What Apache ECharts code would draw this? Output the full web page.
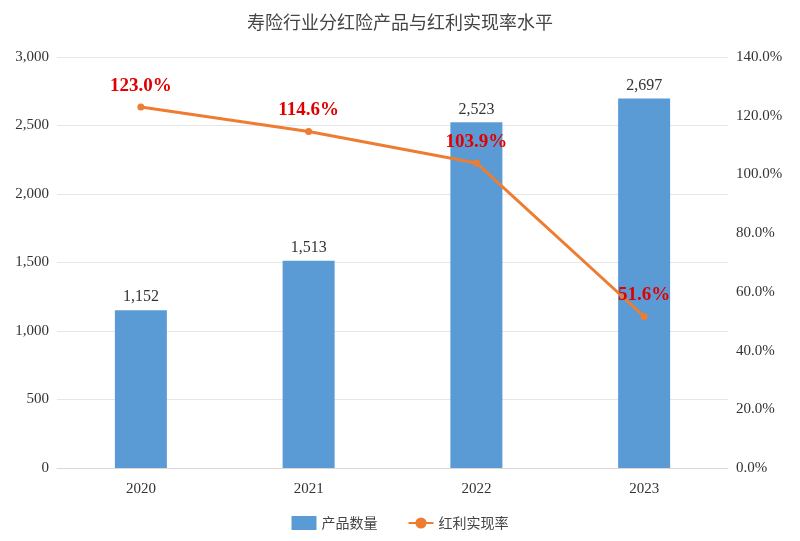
<!DOCTYPE html>
<html><head><meta charset="utf-8">
<script src="https://cdn.jsdelivr.net/npm/echarts@6/dist/echarts.min.js"></script>
<style>html,body{margin:0;padding:0;background:#fff}#c{width:800px;height:541px}</style>
</head><body><div id="c"></div>
<script>
var years = ['2020', '2021', '2022', '2023'];
var productCount = [1152, 1513, 2523, 2697];
var dividendRate = [123.0, 114.6, 103.9, 51.6];

var chart = echarts.init(document.getElementById('c'));
var serif = '"Liberation Serif", "Noto Sans CJK SC", serif';
chart.setOption({
    title: {
        text: '寿险行业分红险产品与红利实现率水平',
        left: 'center', top: 8,
        textStyle: { fontFamily: '"Noto Sans CJK SC"', fontSize: 18, fontWeight: 'normal', color: '#444' }
    },
    legend: {
        bottom: 6, left: 'center', itemGap: 30,
        textStyle: { fontFamily: '"Noto Sans CJK SC"', fontSize: 14, color: '#444' },
        data: [{ name: '产品数量', icon: 'rect' }, { name: '红利实现率' }]
    },
    grid: { left: 57, right: 72, top: 57, bottom: 73 },
    xAxis: {
        type: 'category', data: years,
        axisTick: { show: false },
        axisLine: { lineStyle: { color: '#d9d9d9' } },
        axisLabel: { fontFamily: serif, fontSize: 15, color: '#333', margin: 14 }
    },
    yAxis: [{
        type: 'value', min: 0, max: 3000, interval: 500,
        splitLine: { lineStyle: { color: '#e6e6e6' } },
        axisLabel: { fontFamily: serif, fontSize: 15, color: '#333',
            formatter: function (v) { return v.toLocaleString('en-US'); } }
    }, {
        type: 'value', min: 0, max: 140, interval: 20,
        splitLine: { show: false },
        axisLabel: { fontFamily: serif, fontSize: 15, color: '#333',
            formatter: function (v) { return v.toFixed(1) + '%'; } }
    }],
    series: [{
        name: '产品数量', type: 'bar', data: productCount, barWidth: 52,
        itemStyle: { color: '#5B9BD5' },
        label: { show: true, position: 'top', fontFamily: serif, fontSize: 16, color: '#333',
            formatter: function (p) { return p.value.toLocaleString('en-US'); } }
    }, {
        name: '红利实现率', type: 'line', yAxisIndex: 1, data: dividendRate,
        symbol: 'circle', symbolSize: 7,
        lineStyle: { color: '#ED7D31', width: 3 },
        itemStyle: { color: '#ED7D31' },
        label: { show: true, position: 'top', distance: 8, fontFamily: serif, fontSize: 19,
            fontWeight: 'bold', color: '#E00000',
            formatter: function (p) { return p.value.toFixed(1) + '%'; } }
    }]
});
</script></body></html>
